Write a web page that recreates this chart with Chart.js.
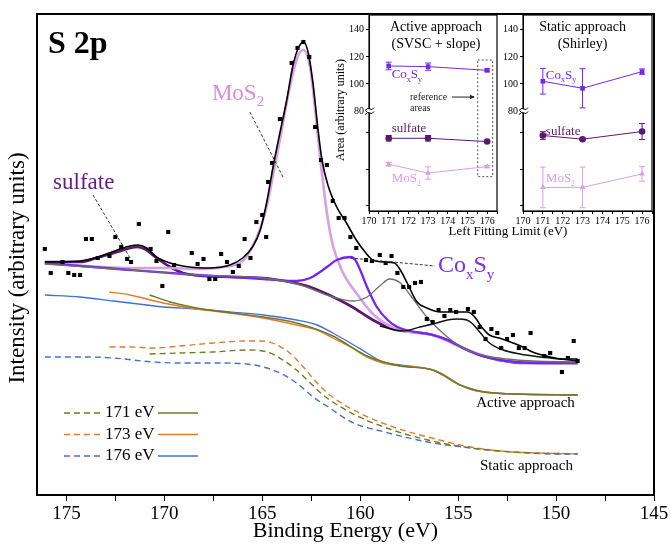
<!DOCTYPE html>
<html>
<head>
<meta charset="utf-8">
<script src="https://cdn.jsdelivr.net/npm/chart.js@4.4.0/dist/chart.umd.min.js"></script>
<style>
  html, body { margin: 0; padding: 0; background: #fff; }
  #wrap { position: relative; width: 671px; height: 544px; }
  #wrap canvas { position: absolute; left: 0; top: 0; }
</style>
</head>
<body>
<div id="wrap">
  <canvas id="main" width="671" height="544"></canvas>
  <canvas id="insetActive" width="671" height="544"></canvas>
  <canvas id="insetStatic" width="671" height="544"></canvas>
</div>
<script>
// ---- S 2p spectrum: [binding energy (eV), intensity (a.u.)] ----
const measured = [
  [176.1,246],[175.8,222],[175.2,233],[174.9,222],[174.6,220],[174.3,220],[174.0,256],[173.7,256],
  [173.4,237],[172.8,239],[172.5,258],[172.2,248],[171.9,236],[171.7,233],[171.3,271],[170.7,246],
  [170.4,234],[170.1,209],[169.8,263],[169.5,230],[168.6,242],[168.3,231],[168.0,236],[167.7,216],
  [167.4,216],[167.1,241],[166.8,233],[166.5,223],[166.2,229],[165.9,256],[165.6,237],[165.3,273],
  [165.0,280],[164.8,258],[164.7,313],[164.5,332],[164.1,376],[163.5,432],[163.2,447],[162.9,453],
  [162.6,438],[162.3,368],[162.0,335],[161.7,330],[161.4,294],[161.1,277],[160.8,277],[160.5,258],
  [160.2,247],[159.7,235],[159.4,234],[159.0,240],[158.7,232],[158.4,239],[158.1,222],[157.8,208],
  [157.5,208],[157.2,212],[156.9,213],[156.6,176],[156.3,173],[156.0,185],[155.7,179],[155.4,185],
  [155.1,183],[154.5,186],[154.2,183],[153.9,168],[153.6,156],[153.3,166],[153.0,162],[152.8,147],
  [152.5,156],[152.2,160],[151.9,147],[151.6,147],[151.3,162],[150.6,139],[150.3,142],[149.7,123],
  [149.4,137],[149.1,154],[148.9,134]
];
const totalFit = [
  [176.1,233],[174.3,234],[173.4,238],[172.4,245],[171.75,249],[171.35,250],[170.9,247],[170.4,238],
  [169.7,232],[168.7,228],[167.7,227],[166.65,230],[166.0,237],[165.5,248],[165.1,265],[164.75,295],
  [164.45,328],[164.1,362],[163.75,395],[163.45,428],[163.2,445],[162.9,453],[162.65,442],[162.4,410],
  [162.15,365],[161.95,335],[161.65,310],[161.2,288],[160.7,272],[160.2,255],[159.75,243],[159.35,235],
  [158.75,233],[158.25,232],[157.95,225],[157.6,212],[157.1,193],[156.6,187],[155.9,183],[155.05,183],
  [154.5,183],[154.15,178],[153.8,168],[153.4,160],[152.9,157],[152.2,152],[151.7,148],[151.2,143],
  [150.5,139],[149.65,136],[148.9,136]
];
const totalFitAlt = [
  [159.0,169],[157.8,164],[156.95,168],[156.1,172],[155.55,175],[155.05,176],[154.55,175],[154.25,171],
  [153.9,163],[153.4,152],[152.7,145],[151.85,141],[150.8,138],[149.8,136],[148.9,134]
];
const sulfateFit = [
  [176.1,233],[174.3,233],[173.45,237],[172.4,243],[171.4,248],[171.0,246],[170.4,237],[169.7,228],
  [169.05,222],[168.0,219],[166.65,218],[164.95,217],[163.6,213],[162.55,208],[161.7,201],[160.4,188],
  [159.35,175],[158.35,166],[157.3,163],[156.3,160],[155.55,155],[154.75,147],[153.9,140],[152.9,135],
  [151.85,132],[150.8,132],[148.9,132]
];
const mos2Fit = [
  [176.1,232],[171.75,227],[169.7,227],[168.35,226],[167.0,228],[166.0,234],[165.25,259],[164.75,290],
  [164.45,320],[164.1,355],[163.6,407],[163.2,438],[162.9,445],[162.55,427],[162.3,385],[162.05,338],
  [161.85,305],[161.7,282],[161.4,250],[160.9,223],[160.2,202],[159.35,181],[158.5,169],[157.8,164],
  [156.3,160],[154.75,147],[152.9,135],[150.8,132],[148.9,132]
];
const coxsyFit = [
  [176.1,232],[171.75,225],[168.35,220],[164.95,216],[163.25,214],[162.55,217],[162.05,223],[161.7,228],
  [161.2,235],[160.5,238],[160.25,235],[160.0,225],[159.65,208],[159.15,188],[158.6,175],[158.1,168],
  [157.45,164],[156.3,160],[155.55,155],[154.75,147],[153.9,140],[152.9,135],[150.8,132],[148.9,132]
];
const grayFit = [
  [176.1,231],[171.75,225],[168.35,220],[164.95,217],[163.05,210],[161.4,198],[160.35,194],[159.65,198],
  [159.0,209],[158.5,216],[157.95,212],[157.45,200],[156.6,178],[155.55,158],[154.55,145],[153.55,139],
  [152.5,136],[151.2,134],[148.9,133]
];
// active approach (SVSC + slope) backgrounds, solid
const activeBg171 = [
  [170.75,200],[169.7,193],[168.35,187],[167.3,184],[164.95,178],[163.25,172],[161.4,159],[159.65,139],
  [157.95,129],[156.3,125],[154.9,110],[153.2,102],[148.9,100]
];
const activeBg173 = [
  [172.8,203],[171.75,200],[170.05,192],[168.35,186],[166.65,182],[164.95,177],[163.25,170],[162.2,165],
  [161.4,157],[160.5,148],[159.65,138],[158.85,132],[157.95,129],[157.1,128],[156.3,125],[155.55,118],
  [154.9,110],[154.25,105],[153.2,102],[152.0,101],[148.9,100]
];
const activeBg176 = [
  [176.1,200],[174.3,198],[172.6,194],[170.9,190],[170.05,188],[168.35,186],[166.65,183],[164.95,180],
  [163.25,175],[162.2,170],[161.4,162],[160.5,152],[159.65,142],[158.85,133],[157.95,130],[157.1,128],
  [156.3,125],[155.55,118],[154.9,110],[154.25,105],[153.2,102],[152.0,101],[148.9,100]
];
// static approach (Shirley) backgrounds, dashed
const staticBg171 = [
  [170.75,141],[169.2,142],[167.5,143],[165.8,145],[164.75,143],[163.95,135],[163.25,125],[162.55,112],
  [161.9,100],[161.55,95],[160.25,80],[158.5,66],[156.55,55],[154.35,47],[152.2,43],[148.9,41]
];
const staticBg173 = [
  [172.8,148],[171.75,148],[170.6,147],[169.2,149],[167.5,152],[165.8,154],[164.95,154],[164.25,150],
  [163.6,142],[162.9,128],[162.2,112],[161.55,100],[160.05,82],[158.3,68],[156.55,58],[154.35,48],
  [152.2,43],[150.9,42],[148.9,41]
];
const staticBg176 = [
  [176.1,138],[173.9,138],[172.6,137],[170.6,133],[169.2,132],[167.5,132],[165.8,131],[164.95,128],
  [164.1,122],[163.25,112],[162.4,98],[161.55,87],[160.45,73],[158.75,63],[156.55,53],[154.35,47],
  [152.2,43],[150.0,41],[148.9,41]
];
const limitLabels = ['171 eV', '173 eV', '176 eV'];

// ---- inset: fitted areas vs left fitting limit ----
const fitLimits = [171, 173, 176];
const activeCoxSy = [113.3, 112.8, 110.1];
const activeCoxSyErr = [2.8, 2.7, 1];
const activeSulfate = [27.0, 27.0, 25.2];
const activeSulfateErr = [1.5, 1.5, 0.5];
const activeMoS2 = [12.7, 7.9, 11.4];
const activeMoS2Err = [1, 3.4, 0.6];
const staticCoxSy = [102, 96.8, 109.1];
const staticCoxSyErr = [9.5, 14.5, 2];
const staticSulfate = [28.5, 26.5, 30.7];
const staticSulfateErr = [2.1, 0.6, 4.4];
const staticMoS2 = [0, 0, 7.4];
const staticMoS2Err = [11.2, 11.2, 4];

const SERIF = '"Liberation Serif", "DejaVu Serif", serif';
Chart.defaults.font.family = SERIF;
Chart.defaults.color = '#000';

const COL = {
  coxsy: '#7326f2', sulfate: '#5b1870', mos2: '#d6a0e2', gray: '#6d6d6d',
  b171: '#6f7b22', b173: '#e47a2a', b176: '#4470d4'
};

function pts(arr) {
  return arr.map(p => ({ x: p[0], y: p[1] }));
}

function curve(arr, color, width, dash) {
  return {
    data: pts(arr), borderColor: color, borderWidth: width, borderDash: dash || [],
    pointRadius: 0, fill: false, cubicInterpolationMode: 'monotone'
  };
}

// text with subscripts: parts starting with '_' are subscripts
function richText(ctx, parts, x, y, size, color, align, weight) {
  ctx.save();
  ctx.fillStyle = color;
  ctx.textBaseline = 'alphabetic';
  const sub = Math.round(size * 0.64);
  const fontFor = p => (weight || '') + ' ' + (p[0] === '_' ? sub : size) + 'px ' + SERIF;
  let w = 0;
  parts.forEach(p => { ctx.font = fontFor(p); w += ctx.measureText(p.replace(/^_/, '')).width; });
  let cx = align === 'right' ? x - w : align === 'center' ? x - w / 2 : x;
  parts.forEach(p => {
    ctx.font = fontFor(p);
    const t = p.replace(/^_/, '');
    ctx.fillText(t, cx, p[0] === '_' ? y + size * 0.28 : y);
    cx += ctx.measureText(t).width;
  });
  ctx.restore();
}

// ---- main chart annotations (data coordinates) ----
const mainNotes = [
  { parts: ['S 2p'], e: 175.94, i: 442, size: 32, color: '#000', weight: 'bold' },
  { parts: ['MoS', '_2'], e: 167.57, i: 395, size: 23, color: '#d88ce0' },
  { parts: ['sulfate'], e: 175.68, i: 306, size: 23, color: '#6a1b7e' },
  { parts: ['Co', '_x', 'S', '_y'], e: 156.03, i: 223, size: 24, color: '#7a2cf5' },
  { parts: ['Active approach'], e: 149.04, i: 88, size: 15, color: '#000', align: 'right' },
  { parts: ['Static approach'], e: 149.14, i: 25, size: 15, color: '#000', align: 'right' }
];
const mainLeaders = [
  [[165.63, 383], [163.94, 318]],
  [[173.64, 300], [171.75, 237]],
  [[160.52, 237], [156.18, 229]]
];

const mainDecor = {
  id: 'mainDecor',
  afterDraw(chart) {
    const { ctx, chartArea: a, scales: { x, y } } = chart;
    ctx.save();
    ctx.strokeStyle = '#000';
    ctx.lineWidth = 2;
    ctx.strokeRect(a.left, a.top, a.right - a.left, a.bottom - a.top);

    ctx.strokeStyle = '#333';
    ctx.lineWidth = 1;
    ctx.setLineDash([3, 2]);
    mainLeaders.forEach(l => {
      ctx.beginPath();
      ctx.moveTo(x.getPixelForValue(l[0][0]), y.getPixelForValue(l[0][1]));
      ctx.lineTo(x.getPixelForValue(l[1][0]), y.getPixelForValue(l[1][1]));
      ctx.stroke();
    });
    ctx.setLineDash([]);

    mainNotes.forEach(n => richText(ctx, n.parts, x.getPixelForValue(n.e), y.getPixelForValue(n.i),
      n.size, n.color, n.align, n.weight));

    // y title
    ctx.save();
    ctx.translate(a.left - 19, 268);
    ctx.rotate(-Math.PI / 2);
    ctx.font = '23px ' + SERIF;
    ctx.fillStyle = '#000';
    ctx.textAlign = 'center';
    ctx.textBaseline = 'middle';
    ctx.fillText('Intensity (arbitrary units)', 0, 0);
    ctx.restore();

    // legend: dashed (static) - label - solid (active)
    const colors = [COL.b171, COL.b173, COL.b176];
    limitLabels.forEach((lab, k) => {
      const ry = a.bottom - 82 + k * 21.5;
      ctx.lineWidth = 1.5;
      ctx.strokeStyle = colors[k];
      ctx.setLineDash([6, 4]);
      ctx.beginPath(); ctx.moveTo(a.left + 27, ry); ctx.lineTo(a.left + 66, ry); ctx.stroke();
      ctx.setLineDash([]);
      ctx.beginPath(); ctx.moveTo(a.left + 121, ry); ctx.lineTo(a.left + 161, ry); ctx.stroke();
      ctx.font = '17px ' + SERIF;
      ctx.fillStyle = '#000';
      ctx.textBaseline = 'middle';
      ctx.fillText(lab, a.left + 68, ry);
    });
    ctx.restore();
  }
};

const measuredSet = {
  data: pts(measured), showLine: false, pointStyle: 'rect', pointRadius: 2.9,
  pointBackgroundColor: '#000', pointBorderWidth: 0
};

new Chart(document.getElementById('main'), {
  type: 'line',
  data: {
    datasets: [
      measuredSet,
      curve(totalFit, '#000', 1.6),
      curve(totalFitAlt, '#111', 1.5),
      curve(grayFit, COL.gray, 1.3),
      curve(coxsyFit, COL.coxsy, 2.3),
      curve(mos2Fit, COL.mos2, 2.6),
      curve(sulfateFit, COL.sulfate, 2.6),
      curve(activeBg171, COL.b171, 1.4),
      curve(activeBg173, COL.b173, 1.4),
      curve(activeBg176, COL.b176, 1.4),
      curve(staticBg171, COL.b171, 1.4, [6, 4]),
      curve(staticBg173, COL.b173, 1.4, [6, 4]),
      curve(staticBg176, COL.b176, 1.4, [6, 4])
    ]
  },
  options: {
    responsive: false,
    animation: false,
    events: [],
    layout: { padding: { left: 37, right: 17, top: 14, bottom: 0 } },
    plugins: { legend: { display: false }, tooltip: { enabled: false } },
    scales: {
      x: {
        type: 'linear', reverse: true, min: 145, max: 176.5,
        ticks: {
          stepSize: 2.5, includeBounds: false, autoSkip: false, maxRotation: 0,
          font: { size: 19 }, padding: 2,
          callback: v => (v % 5 === 0 ? v : '')
        },
        grid: { drawOnChartArea: false, tickLength: 6, color: '#000' },
        border: { color: '#000', width: 2 },
        title: { display: true, text: 'Binding Energy (eV)', font: { size: 22 }, padding: { top: 0, bottom: 0 } },
        afterFit: s => { s.height = 49; }
      },
      y: { type: 'linear', min: 0, max: 481, display: false }
    }
  },
  plugins: [mainDecor]
});

// ---- insets ----
function insetSeries(vals, errs, color, style, axis) {
  return {
    data: fitLimits.map((x, k) => ({ x, y: vals[k] })),
    errors: errs, yAxisID: axis,
    borderColor: color, borderWidth: 1, tension: 0,
    pointStyle: style, pointRadius: 3.3,
    pointBackgroundColor: color, pointBorderColor: color, pointBorderWidth: 0
  };
}

function insetDecor(notes, extra) {
  return {
    id: 'insetDecor',
    beforeDatasetsDraw(chart) {
      const { ctx, scales } = chart;
      ctx.save();
      chart.data.datasets.forEach(ds => {
        const ys = scales[ds.yAxisID];
        ctx.strokeStyle = ds.borderColor;
        ctx.lineWidth = 1;
        ds.data.forEach((p, k) => {
          const px = scales.x.getPixelForValue(p.x);
          const top = ys.getPixelForValue(p.y + ds.errors[k]);
          const bot = ys.getPixelForValue(p.y - ds.errors[k]);
          ctx.beginPath();
          ctx.moveTo(px, top); ctx.lineTo(px, bot);
          ctx.moveTo(px - 3, top); ctx.lineTo(px + 3, top);
          ctx.moveTo(px - 3, bot); ctx.lineTo(px + 3, bot);
          ctx.stroke();
        });
      });
      ctx.restore();
    },
    afterDraw(chart) {
      const { ctx, chartArea: a, scales } = chart;
      ctx.save();
      ctx.strokeStyle = '#000';
      ctx.lineWidth = 1.2;
      ctx.strokeRect(a.left, a.top, a.right - a.left, a.bottom - a.top);

      // axis break marks
      const by = scales.yTop.bottom;
      ctx.fillStyle = '#fff';
      ctx.fillRect(a.left - 2, by - 2, 4, 4);
      ctx.lineWidth = 1;
      [-2, 2].forEach(d => {
        ctx.beginPath();
        ctx.moveTo(a.left - 4, by + d + 1.5);
        ctx.quadraticCurveTo(a.left - 1, by + d - 2, a.left + 1, by + d);
        ctx.quadraticCurveTo(a.left + 3, by + d + 2, a.left + 5, by + d - 1.5);
        ctx.stroke();
      });

      notes.forEach(n => richText(ctx, n.parts, scales.x.getPixelForValue(n.x),
        scales[n.axis].getPixelForValue(n.y), n.size, n.color, n.align));
      if (extra) extra(chart);
      ctx.restore();
    }
  };
}

function insetConfig(left, right, co, coE, su, suE, mo, moE, notes, extra) {
  const tickFont = { size: 10 };
  return {
    type: 'line',
    data: {
      datasets: [
        insetSeries(co, coE, COL.coxsy, 'rect', 'yTop'),
        insetSeries(su, suE, COL.sulfate, 'circle', 'yBot'),
        insetSeries(mo, moE, COL.mos2, 'triangle', 'yBot')
      ]
    },
    options: {
      responsive: false,
      animation: false,
      events: [],
      layout: { padding: { left: left - 39, right: 671 - right, top: 15, bottom: 544 - 245 } },
      plugins: { legend: { display: false }, tooltip: { enabled: false } },
      scales: {
        x: {
          type: 'linear', min: 170, max: 176.5,
          ticks: {
            stepSize: 0.5, includeBounds: false, autoSkip: false, maxRotation: 0, font: tickFont, padding: 1,
            callback: v => (Number.isInteger(v) ? v : '')
          },
          grid: { drawOnChartArea: false, tickLength: 3, color: '#000' },
          border: { color: '#000' },
          afterFit: s => { s.height = 34; }
        },
        yBot: {
          type: 'linear', position: 'left', stack: 'area', stackWeight: 100, min: -13, max: 42,
          ticks: {
            stepSize: 10, includeBounds: false, font: tickFont, padding: 2,
            callback: v => (v === 0 || v === 20 ? v : '')
          },
          grid: { drawOnChartArea: false, tickLength: 3, color: '#000' },
          border: { color: '#000' },
          afterFit: s => { s.width = 39; }
        },
        yTop: {
          type: 'linear', position: 'left', stack: 'area', stackWeight: 96, min: 80, max: 151,
          ticks: {
            stepSize: 10, includeBounds: false, font: tickFont, padding: 2,
            callback: v => (v % 20 === 0 ? v : '')
          },
          grid: { drawOnChartArea: false, tickLength: 3, color: '#000' },
          border: { color: '#000' },
          afterFit: s => { s.width = 39; }
        }
      }
    },
    plugins: [insetDecor(notes, extra)]
  };
}

function seriesNotes(titleA, titleB, titleX, coY, suY, moY) {
  return [
    { parts: [titleA], x: titleX, y: 139.3, axis: 'yTop', size: 14, color: '#000', align: 'center' },
    { parts: [titleB], x: titleX, y: 126.7, axis: 'yTop', size: 14, color: '#000', align: 'center' },
    { parts: ['Co', '_x', 'S', '_y'], x: 171.15, y: coY, axis: 'yTop', size: 13, color: COL.coxsy },
    { parts: ['sulfate'], x: 171.15, y: suY, axis: 'yBot', size: 13, color: COL.sulfate },
    { parts: ['MoS', '_2'], x: 171.15, y: moY, axis: 'yBot', size: 13, color: COL.mos2 }
  ];
}

function activeExtras(chart) {
  const { ctx, scales: { x, yTop, yBot }, chartArea: a } = chart;
  // reference areas box
  ctx.strokeStyle = '#555';
  ctx.lineWidth = 1;
  ctx.setLineDash([2, 2]);
  const l = x.getPixelForValue(175.52), r = x.getPixelForValue(176.28);
  const t = yTop.getPixelForValue(117.7), b = yBot.getPixelForValue(5.9);
  ctx.strokeRect(l, t, r - l, b - t);
  ctx.setLineDash([]);
  ctx.font = '10px ' + SERIF;
  ctx.fillStyle = '#222';
  ctx.textBaseline = 'middle';
  const ry = yTop.getPixelForValue(90.3);
  ctx.fillText('reference', x.getPixelForValue(172.08), ry);
  ctx.fillText('areas', x.getPixelForValue(172.08), yTop.getPixelForValue(81.6));
  const x0 = x.getPixelForValue(174.21), x1 = x.getPixelForValue(175.33);
  ctx.strokeStyle = '#222';
  ctx.beginPath(); ctx.moveTo(x0, ry); ctx.lineTo(x1, ry); ctx.stroke();
  ctx.beginPath(); ctx.moveTo(x1 + 1, ry); ctx.lineTo(x1 - 4, ry - 2.2); ctx.lineTo(x1 - 4, ry + 2.2); ctx.closePath();
  ctx.fill();

  // shared titles of the inset
  ctx.fillStyle = '#000';
  ctx.save();
  ctx.translate(a.left - 28, (a.top + a.bottom) / 2 - 3);
  ctx.rotate(-Math.PI / 2);
  ctx.font = '12px ' + SERIF;
  ctx.textAlign = 'center';
  ctx.fillText('Area (arbitrary units)', 0, 0);
  ctx.restore();
  ctx.font = '13px ' + SERIF;
  ctx.textAlign = 'center';
  ctx.fillText('Left Fitting Limit (eV)', a.left + 139, a.bottom + 21);
}

new Chart(document.getElementById('insetActive'), insetConfig(369, 497,
  activeCoxSy, activeCoxSyErr, activeSulfate, activeSulfateErr, activeMoS2, activeMoS2Err,
  seriesNotes('Active approach', '(SVSC + slope)', 173.4, 104.5, 30.5, 2.8), activeExtras));

new Chart(document.getElementById('insetStatic'), insetConfig(523, 652,
  staticCoxSy, staticCoxSyErr, staticSulfate, staticSulfateErr, staticMoS2, staticMoS2Err,
  seriesNotes('Static approach', '(Shirley)', 173.0, 103.8, 29, 2.8)));
</script>
</body>
</html>
